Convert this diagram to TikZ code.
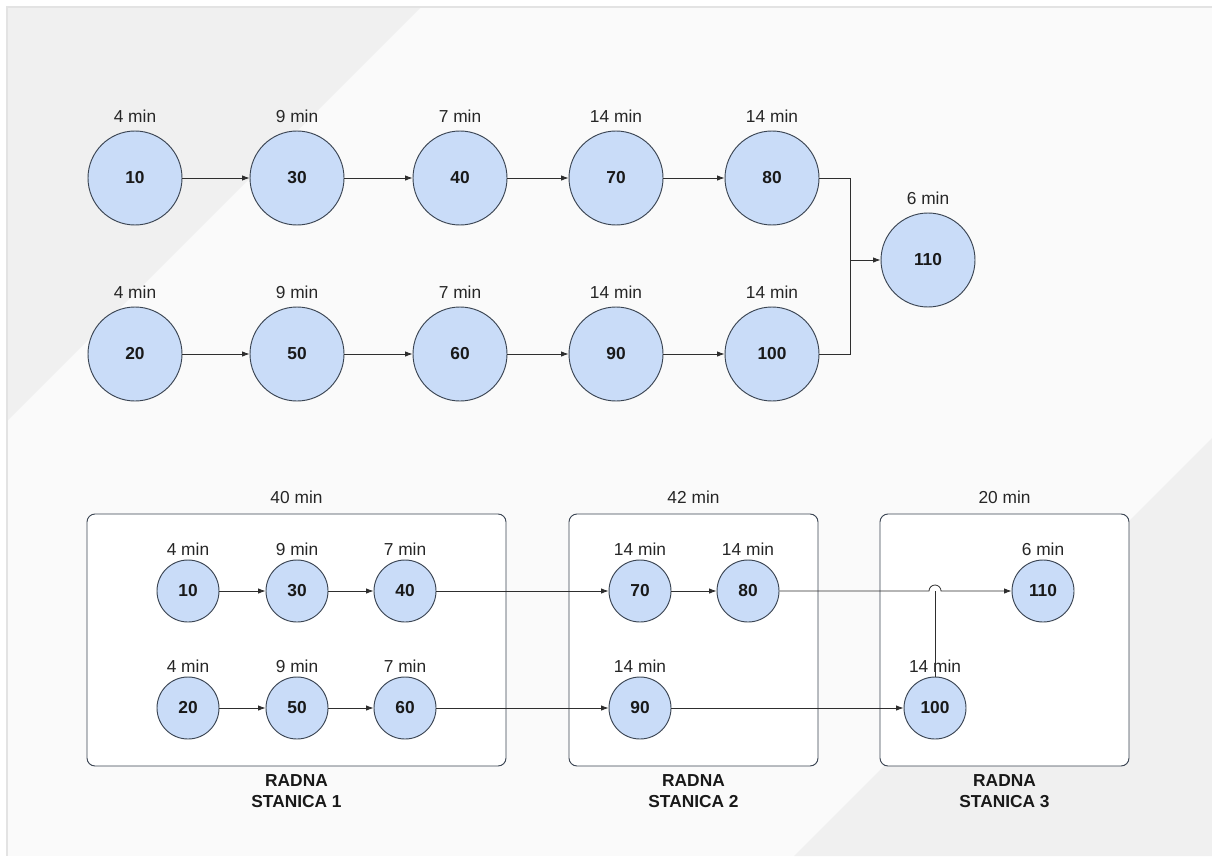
\documentclass[tikz,border=0pt]{standalone}
\usepackage{fontspec}
\setmainfont{Liberation Sans}
\usepackage{tikz}
\usetikzlibrary{arrows.meta,calc}
\usepackage{xcolor}

\definecolor{bgmain}{HTML}{FAFAFA}
\definecolor{bgdark}{HTML}{F0F0F0}
\definecolor{bgline}{HTML}{E3E3E3}
\definecolor{opfill}{HTML}{C9DCF8}
\definecolor{opline}{HTML}{3A4452}
\definecolor{wire}{HTML}{2E2E2E}

\begin{document}
\begin{tikzpicture}[
  x=0.75pt, y=-0.75pt,
  op/.style={circle,draw=opline,fill=opfill,line width=0.7pt,inner sep=0pt,minimum size=#1,
    text=black!90,font=\bfseries\fontsize{13}{15}\selectfont},
  tm/.style={inner sep=0pt,text=black!85,font=\fontsize{13}{15}\selectfont},
  big/.style={op=70.5pt,label={[tm,label distance=6pt]above:#1}},
  small/.style={op=46.5pt,label={[tm,label distance=3pt]above:#1}},
  station/.style={rectangle,rounded corners=6pt,draw=opline,fill=white,line width=0.7pt,
    minimum height=189pt,minimum width=#1},
  stlbl/.style={inner sep=0pt,align=center,text=black!90,
    font=\bfseries\fontsize{13}{15.75}\selectfont},
  wire/.style={draw=wire,line width=0.6pt},
  arr/.style={wire,-{Latex[length=5.5pt,width=4pt]}}
  ]
\useasboundingbox (0,0) rectangle (1212,856);
% background
\fill[white] (0,0) rectangle (1212,856);
\fill[bgmain] (7,7) rectangle (1212,856);
\fill[bgdark] (7,7) -- (421,7) -- (7,421) -- cycle;              % upper left band
\fill[bgdark] (1212,438) -- (1212,856) -- (794,856) -- cycle;    % lower right band
\draw[bgline,line width=1.2pt] (7,856) -- (7,7) -- (1212,7);
% upper graph
\node[big=4 min]  (t10)  at (135,178) {10};
\node[big=9 min]  (t30)  at (297,178) {30};
\node[big=7 min]  (t40)  at (460,178) {40};
\node[big=14 min] (t70)  at (616,178) {70};
\node[big=14 min] (t80)  at (772,178) {80};
\node[big=4 min]  (t20)  at (135,354) {20};
\node[big=9 min]  (t50)  at (297,354) {50};
\node[big=7 min]  (t60)  at (460,354) {60};
\node[big=14 min] (t90)  at (616,354) {90};
\node[big=14 min] (t100) at (772,354) {100};
\node[big=6 min]  (t110) at (928,260) {110};
\coordinate (mrg) at (850,260);                                  % merge point
\draw[arr] (t10) -- (t30);
\draw[arr] (t30) -- (t40);
\draw[arr] (t40) -- (t70);
\draw[arr] (t70) -- (t80);
\draw[arr] (t20) -- (t50);
\draw[arr] (t50) -- (t60);
\draw[arr] (t60) -- (t90);
\draw[arr] (t90) -- (t100);
\draw[wire] (t80) -| (mrg);
\draw[wire] (t100) -| (mrg);
\draw[arr] (mrg) -- (t110);
% work stations
\node[station=314.25pt,label={[tm,label distance=7.5pt]above:40 min}] (rs1) at (296.5,640) {};
\node[station=186.75pt,label={[tm,label distance=7.5pt]above:42 min}] (rs2) at (693.5,640) {};
\node[station=186.75pt,label={[tm,label distance=7.5pt]above:20 min}] (rs3) at (1004.5,640) {};
\node[stlbl,below=6pt] (rs1lbl) at (rs1.south) {RADNA\\STANICA 1};
\node[stlbl,below=6pt] (rs2lbl) at (rs2.south) {RADNA\\STANICA 2};
\node[stlbl,below=6pt] (rs3lbl) at (rs3.south) {RADNA\\STANICA 3};
% lower graph
\node[small=4 min]  (b10)  at (188,591) {10};
\node[small=9 min]  (b30)  at (297,591) {30};
\node[small=7 min]  (b40)  at (405,591) {40};
\node[small=4 min]  (b20)  at (188,708) {20};
\node[small=9 min]  (b50)  at (297,708) {50};
\node[small=7 min]  (b60)  at (405,708) {60};
\node[small=14 min] (b70)  at (640,591) {70};
\node[small=14 min] (b80)  at (748,591) {80};
\node[small=14 min] (b90)  at (640,708) {90};
\node[small=6 min]  (b110) at (1043,591) {110};
\node[small=14 min] (b100) at (935,708) {100};
\coordinate (hop) at (b100 |- b80);                              % line jump
\draw[arr] (b10) -- (b30);
\draw[arr] (b30) -- (b40);
\draw[arr] (b20) -- (b50);
\draw[arr] (b50) -- (b60);
\draw[arr] (b40) -- (b70);
\draw[arr] (b70) -- (b80);
\draw[arr] (b60) -- (b90);
\draw[arr] (b90) -- (b100);
\draw[arr] (b80) -- ($(hop)+(-6,0)$) arc[start angle=180,end angle=0,radius=4.5pt] -- (b110);
\draw[wire] (b100) -- (hop);
\end{tikzpicture}
\end{document}
